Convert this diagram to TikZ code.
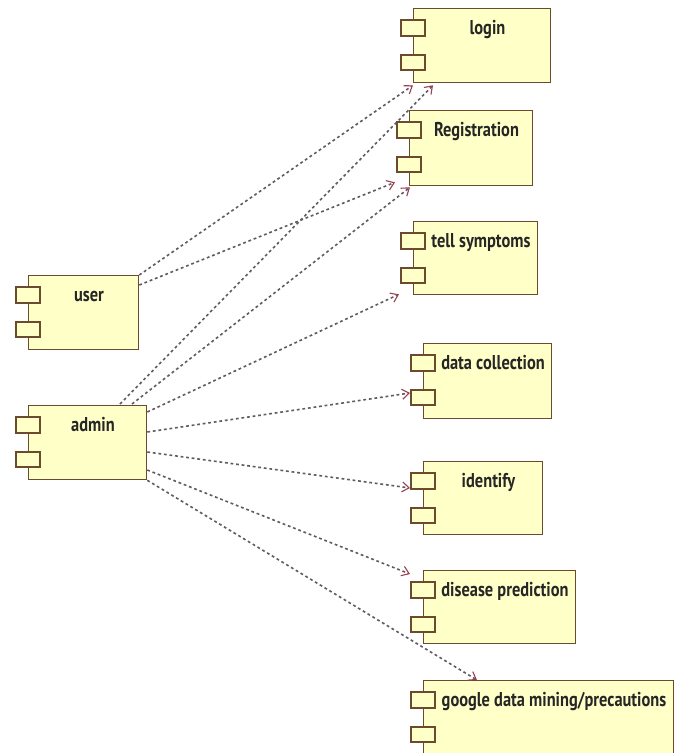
\documentclass[tikz,border=0pt]{standalone}
\usepackage{fontspec}
\setmainfont{PT Sans}[FakeStretch=0.82]
\usetikzlibrary{arrows.meta,calc}
\definecolor{boxfill}{HTML}{FFFFC8}
\definecolor{boxline}{HTML}{6B4A2E}
\definecolor{dashc}{HTML}{615A64}
\definecolor{tipc}{HTML}{9B4050}
\tikzset{
  compbox/.style={draw=boxline, fill=boxfill, line width=1.3pt, inner sep=0pt, anchor=north west},
  tabbox/.style={draw=boxline, fill=boxfill, line width=1.3pt},
  complabel/.style={anchor=base, inner sep=0pt, font=\fontsize{20}{24}\selectfont\bfseries, text=black!85},
  dep/.style={draw=dashc, line width=1.6pt, dash pattern=on 2.8pt off 2.8pt,
    -{Straight Barb[length=7pt,width=10pt,line width=1.1pt,color=tipc]}}
}
\newcommand\comp[6]{%
  \node[compbox, minimum width={(#4-#2)*1pt}, minimum height={(#5-#3)*1pt}] (#1) at (#2,#3) {};
  \draw[tabbox] (#2-12,#3+12) rectangle (#2+12,#3+28);
  \draw[tabbox] (#2-12,#3+47) rectangle (#2+12,#3+62);
  \node[complabel] (#1-t) at ({(#2+12+#4)/2},#3+26) {#6};
}
\begin{document}
\begin{tikzpicture}[x=1pt,y=-1pt]
\path[fill=white, use as bounding box] (0,0) rectangle (683,753);
\comp{login}{413}{8}{550}{82}{login}
\comp{reg}{409}{110}{532}{185}{Registration}
\comp{tell}{413}{221}{537}{294}{tell symptoms}
\comp{data}{423}{343}{551}{418}{data collection}
\comp{ident}{423}{461}{542}{534}{identify}
\comp{disease}{423}{570}{575}{643}{disease prediction}
\comp{google}{423}{680}{673}{756}{google data mining/precautions}
\comp{user}{28}{275}{138}{349}{user}
\comp{admin}{28}{405}{146}{479}{admin}
% dependencies
\draw[dep] (user.north east) -- ($(login.south west)+(0,2)$);
\draw[dep] ($(user.north east)+(0,10)$) -- ($(reg.south west)+(-14,-4)$);
\draw[dep] ($(admin.north west)+(92,-1)$) -- ($(login.south west)+(20,2)$);
\draw[dep] ($(admin.north west)+(104,-1)$) -- ($(reg.south west)+(1,1)$);
\draw[dep] ($(admin.north east)+(0,7)$) -- ($(tell.south west)+(-14,-1)$);
\draw[dep] ($(admin.north east)+(0,27)$) -- ($(data.north west)+(-13,50)$);
\draw[dep] ($(admin.north east)+(0,47)$) -- ($(ident.north west)+(-13,27)$);
\draw[dep] ($(admin.north east)+(0,65)$) -- ($(disease.north west)+(-13,4)$);
\draw[dep] (admin.south east) -- ($(google.north west)+(54,0)$);
\end{tikzpicture}
\end{document}
